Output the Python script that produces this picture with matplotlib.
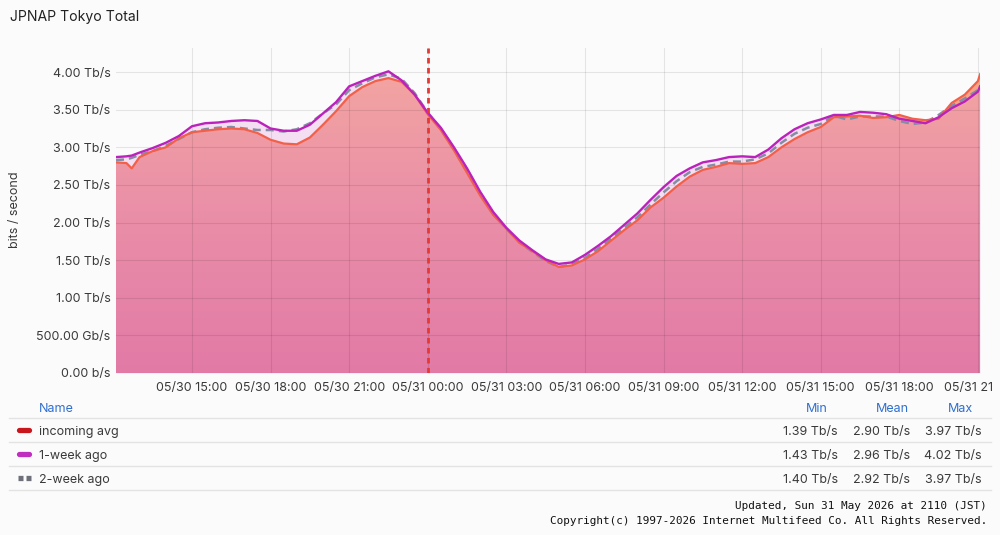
import numpy as np
import matplotlib
matplotlib.use("Agg")
import matplotlib.pyplot as plt
from matplotlib.lines import Line2D
from matplotlib.colors import LinearSegmentedColormap
from matplotlib.transforms import ScaledTranslation

# ---------------- data ----------------
# hours since 05/30 00:00 (JST)
hours = [12.1, 12.5, 12.7, 13.0, 13.5, 14.0, 14.5, 15.0, 15.5, 16.0, 16.5, 17.0, 17.5,
         18.0, 18.5, 19.0, 19.5, 20.0, 20.5, 21.0, 21.5, 22.0, 22.5, 23.0, 23.5,
         24.0, 24.5, 25.0, 25.5, 26.0, 26.5, 27.0, 27.5, 28.0, 28.5, 29.0, 29.5,
         30.0, 30.5, 31.0, 31.5, 32.0, 32.5, 33.0, 33.5, 34.0, 34.5, 35.0, 35.5,
         36.0, 36.5, 37.0, 37.5, 38.0, 38.5, 39.0, 39.5, 40.0, 40.5, 41.0, 41.5,
         42.0, 42.5, 43.0, 43.5, 44.0, 44.5, 45.0, 45.08]

# Tb/s
incoming_avg = [2.80, 2.79, 2.72, 2.87, 2.95, 3.00, 3.12, 3.20, 3.22, 3.24, 3.25, 3.24, 3.19,
                3.10, 3.05, 3.04, 3.13, 3.30, 3.48, 3.68, 3.80, 3.88, 3.92, 3.87, 3.70,
                3.44, 3.23, 2.96, 2.66, 2.36, 2.10, 1.92, 1.73, 1.62, 1.50, 1.41, 1.43,
                1.51, 1.62, 1.76, 1.90, 2.03, 2.20, 2.33, 2.48, 2.61, 2.70, 2.74, 2.79,
                2.78, 2.79, 2.87, 3.00, 3.11, 3.20, 3.27, 3.40, 3.41, 3.42, 3.39, 3.40,
                3.43, 3.38, 3.36, 3.38, 3.59, 3.70, 3.88, 3.97]

week1_ago = [2.87, 2.88, 2.89, 2.93, 2.99, 3.06, 3.15, 3.28, 3.32, 3.33, 3.35, 3.36, 3.35,
             3.25, 3.22, 3.22, 3.30, 3.45, 3.60, 3.81, 3.88, 3.95, 4.01, 3.89, 3.70,
             3.46, 3.26, 3.00, 2.72, 2.41, 2.14, 1.93, 1.76, 1.63, 1.51, 1.45, 1.47,
             1.57, 1.69, 1.82, 1.97, 2.12, 2.30, 2.47, 2.62, 2.72, 2.80, 2.83, 2.87,
             2.88, 2.87, 2.97, 3.12, 3.24, 3.32, 3.37, 3.43, 3.43, 3.47, 3.46, 3.44,
             3.38, 3.35, 3.32, 3.40, 3.52, 3.61, 3.74, 3.81]

week2_ago = [2.83, 2.84, 2.86, 2.90, 2.95, 3.02, 3.11, 3.20, 3.24, 3.26, 3.27, 3.25, 3.23,
             3.23, 3.21, 3.24, 3.32, 3.45, 3.57, 3.76, 3.85, 3.93, 3.97, 3.91, 3.72,
             3.46, 3.24, 2.97, 2.68, 2.38, 2.12, 1.92, 1.74, 1.61, 1.49, 1.41, 1.44,
             1.53, 1.65, 1.79, 1.93, 2.07, 2.24, 2.40, 2.55, 2.67, 2.74, 2.77, 2.81,
             2.81, 2.84, 2.92, 3.06, 3.18, 3.26, 3.31, 3.42, 3.37, 3.41, 3.41, 3.41,
             3.35, 3.31, 3.33, 3.43, 3.55, 3.65, 3.76, 3.81]

x_ticks = [15, 18, 21, 24, 27, 30, 33, 36, 39, 42, 45]
x_tick_labels = ["05/30 15:00", "05/30 18:00", "05/30 21:00", "05/31 00:00", "05/31 03:00",
                 "05/31 06:00", "05/31 09:00", "05/31 12:00", "05/31 15:00", "05/31 18:00",
                 "05/31 21"]
y_ticks = [0, 0.5, 1.0, 1.5, 2.0, 2.5, 3.0, 3.5, 4.0]
y_tick_labels = ["0.00 b/s", "500.00 Gb/s", "1.00 Tb/s", "1.50 Tb/s", "2.00 Tb/s",
                 "2.50 Tb/s", "3.00 Tb/s", "3.50 Tb/s", "4.00 Tb/s"]
day_boundary = 24.0

series_names = ["incoming avg", "1-week ago", "2-week ago"]
stat_min = ["1.39 Tb/s", "1.43 Tb/s", "1.40 Tb/s"]
stat_mean = ["2.90 Tb/s", "2.96 Tb/s", "2.92 Tb/s"]
stat_max = ["3.97 Tb/s", "4.02 Tb/s", "3.97 Tb/s"]

# ---------------- style ----------------
plt.rcParams['font.family'] = ['Inter', 'DejaVu Sans']
BG = '#fbfbfb'
TXT = '#3a3a3a'
FS = 9.0
W, H = 1000, 535

fig = plt.figure(figsize=(W / 100, H / 100), dpi=100, facecolor=BG)

def fx(px):
    return px / W

def fy(py):
    return 1 - py / H

ax = fig.add_axes([fx(116), fy(373), fx(980) - fx(116), fy(48) - fy(373)])
ax.set_facecolor(BG)
ymax = 4.32
ax.set_xlim(hours[0], hours[-1])
ax.set_ylim(0, ymax)

x = np.array(hours)
inc = np.array(incoming_avg)
w1 = np.array(week1_ago)
w2 = np.array(week2_ago)

# 1-week ago light fill
ax.fill_between(x, 0, w1, color='#f4def1', lw=0, zorder=1)

# incoming gradient fill
poly = ax.fill_between(x, 0, inc, color='none', lw=0, zorder=2)
cmap = LinearSegmentedColormap.from_list('g', ['#e27aa6', '#ea8fa8', '#f4a8a0'])
grad = np.linspace(0, 1, 256).reshape(-1, 1)
im = ax.imshow(grad, extent=[x[0], x[-1], 0, ymax], origin='lower', aspect='auto',
               cmap=cmap, zorder=2)
im.set_clip_path(poly.get_paths()[0], transform=ax.transData)

# incoming above 1-week: orange band
ax.fill_between(x, w1, inc, where=inc > w1, interpolate=True, color='#f5a486', lw=0, zorder=3)

# grid / ticks
ax.set_xticks(x_ticks)
ax.set_xticklabels(x_tick_labels)
ax.set_yticks(y_ticks)
ax.set_yticklabels(y_tick_labels)
ax.grid(True, color='#000000', alpha=0.09, lw=0.8, zorder=4)
ax.set_axisbelow(False)
for s in ax.spines.values():
    s.set_visible(False)
ax.tick_params(length=0, labelsize=FS, colors=TXT)
ax.tick_params(axis='x', pad=6.5)
ax.tick_params(axis='y', pad=4)
last = ax.get_xticklabels()[-1]
last.set_transform(last.get_transform() + ScaledTranslation(-0.09, 0, fig.dpi_scale_trans))

# lines
l2, = ax.plot(x, w2, color='#868ca4', lw=1.8, zorder=5)
l2.set_dashes((3.2, 2.0))
ax.plot(x, inc, color='#f2604a', lw=1.6, zorder=6)
ax.plot(x, w1, color='#bb22bb', lw=1.7, zorder=7)

# day boundary marker
ax.axvline(day_boundary, color='#e53935', lw=2.0, ls=(0, (2.0, 1.6)), zorder=8)

fig.text(fx(15), fy(210), 'bits / second', rotation=90, ha='center', va='center',
         fontsize=FS, color=TXT)

# title
fig.text(fx(10), fy(17), 'JPNAP Tokyo Total', fontsize=10.1, color='#222222',
         ha='left', va='center')

# legend table
BLUE = '#2f6fd0'
hy = 408.5
fig.text(fx(39), fy(hy), 'Name', fontsize=FS, color=BLUE, ha='left', va='center')
fig.text(fx(828), fy(hy), 'Min', fontsize=FS, color=BLUE, ha='right', va='center')
fig.text(fx(909), fy(hy), 'Mean', fontsize=FS, color=BLUE, ha='right', va='center')
fig.text(fx(973), fy(hy), 'Max', fontsize=FS, color=BLUE, ha='right', va='center')
for py in [418, 442, 466, 490]:
    fig.add_artist(Line2D([fx(9), fx(991)], [fy(py), fy(py)], color='#e3e3e3', lw=1.0))

marker_colors = ['#c8161d', '#c02ec0', '#6e7079']
row_y = [430, 454, 478]
for i in range(3):
    py = row_y[i]
    if i == 2:
        for a, b in [(18, 23), (26, 31)]:
            fig.add_artist(Line2D([fx(a), fx(b)], [fy(py), fy(py)], color=marker_colors[i],
                                  lw=3.8, solid_capstyle='butt'))
    else:
        fig.add_artist(Line2D([fx(19), fx(29)], [fy(py), fy(py)], color=marker_colors[i],
                              lw=3.8, solid_capstyle='round'))
    ty = py + 1.5
    fig.text(fx(39), fy(ty), series_names[i], fontsize=FS, color=TXT, ha='left', va='center')
    fig.text(fx(838), fy(ty), stat_min[i], fontsize=FS, color=TXT, ha='right', va='center')
    fig.text(fx(910), fy(ty), stat_mean[i], fontsize=FS, color=TXT, ha='right', va='center')
    fig.text(fx(982), fy(ty), stat_max[i], fontsize=FS, color=TXT, ha='right', va='center')

# footer
fig.text(fx(987), fy(506), 'Updated, Sun 31 May 2026 at 2110 (JST)', family='DejaVu Sans Mono',
         fontsize=7.95, color='#111111', ha='right', va='center')
fig.text(fx(987), fy(521), 'Copyright(c) 1997-2026 Internet Multifeed Co. All Rights Reserved.',
         family='DejaVu Sans Mono', fontsize=7.95, color='#111111', ha='right', va='center')

fig.savefig('out.png', dpi=100, facecolor=BG)
